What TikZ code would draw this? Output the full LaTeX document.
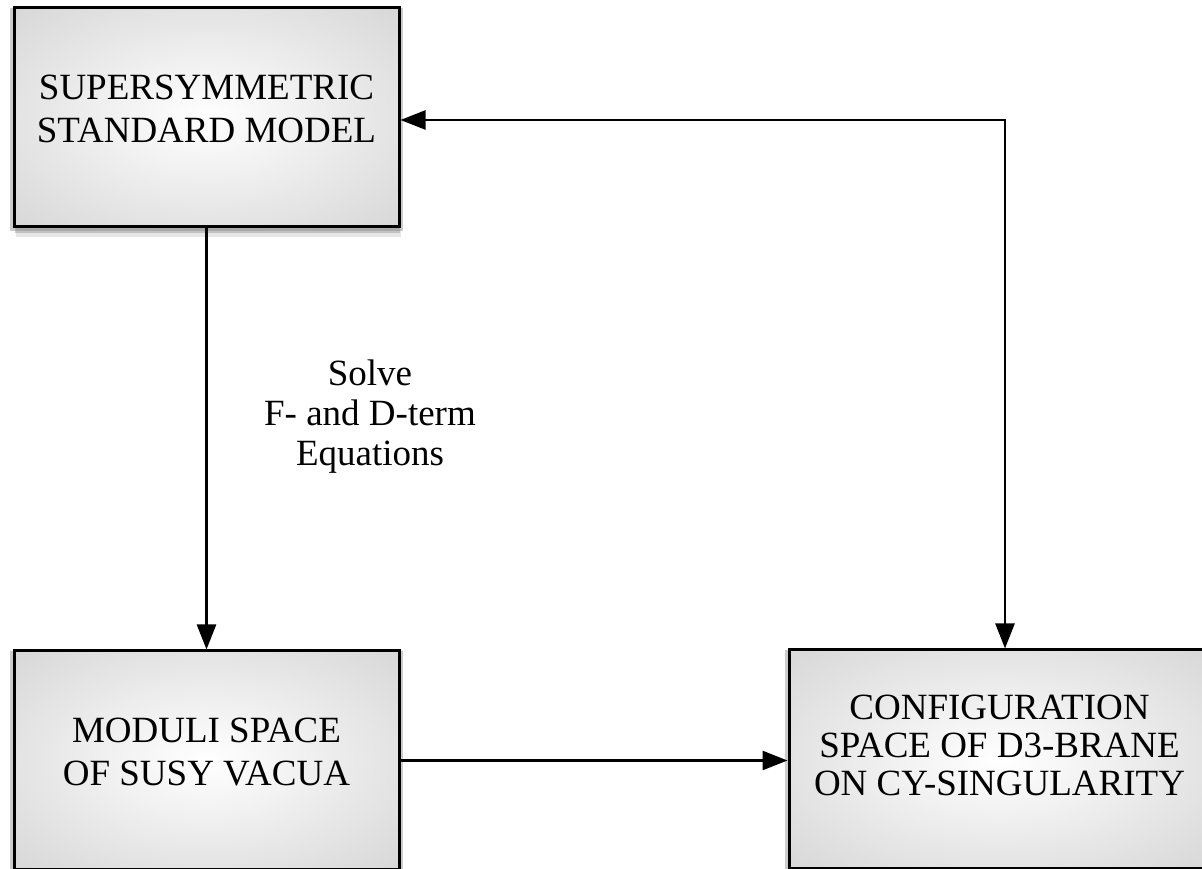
\documentclass[tikz,border=0pt]{standalone}
\usepackage{fontspec}
\setmainfont{Liberation Serif}
\usetikzlibrary{arrows.meta,shadows,positioning}
\pgfdeclareradialshading{boxglow}{\pgfpoint{0bp}{0bp}}{color(0bp)=(white); color(50bp)=(black!22); color(72bp)=(black!32)}

\begin{document}
\begin{tikzpicture}[x=1pt,y=1pt,>={Triangle[length=25pt,width=19pt]},
    blok/.style={draw, line width=3pt, shade, shading=boxglow, align=center,
      font=\fontsize{37}{43}\selectfont, text depth=18pt,
      drop shadow={shadow xshift=0pt,shadow yshift=-2pt,shadow scale=1.02,opacity=.4},
      drop shadow={shadow xshift=1pt,shadow yshift=-6pt,opacity=.35},
      drop shadow={shadow xshift=2pt,shadow yshift=-10pt,opacity=.2}},
    arr/.style={line width=2.5pt}]
  \useasboundingbox (0,0) rectangle (1202,869);
  \node[blok, minimum width=385pt, minimum height=219pt] (ssm) at (206.5,751.5) {SUPERSYMMETRIC\\STANDARD MODEL};
  \node[blok, minimum width=385pt, minimum height=219pt] (vac) at (206.5,108.5) {MODULI SPACE\\OF SUSY VACUA};
  \node[blok, minimum width=421pt, minimum height=219pt, font=\fontsize{37}{38}\selectfont, text depth=28pt] (conf) at (999.5,109.5) {CONFIGURATION\\SPACE OF D3-BRANE\\ON CY-SINGULARITY};
  \node[align=center, font=\fontsize{37}{40}\selectfont] (solve) at (370,452) {Solve\\F- and D-term\\Equations};
  \coordinate (split) at (1005,749);
  \draw [arr, ->] (ssm) -- (vac);
  \draw [arr, ->] (vac.east) -- (vac.east -| conf.west);
  \draw [arr, <->] (split -| ssm.east) -- (split) -- (split |- conf.north);
\end{tikzpicture}
\end{document}
